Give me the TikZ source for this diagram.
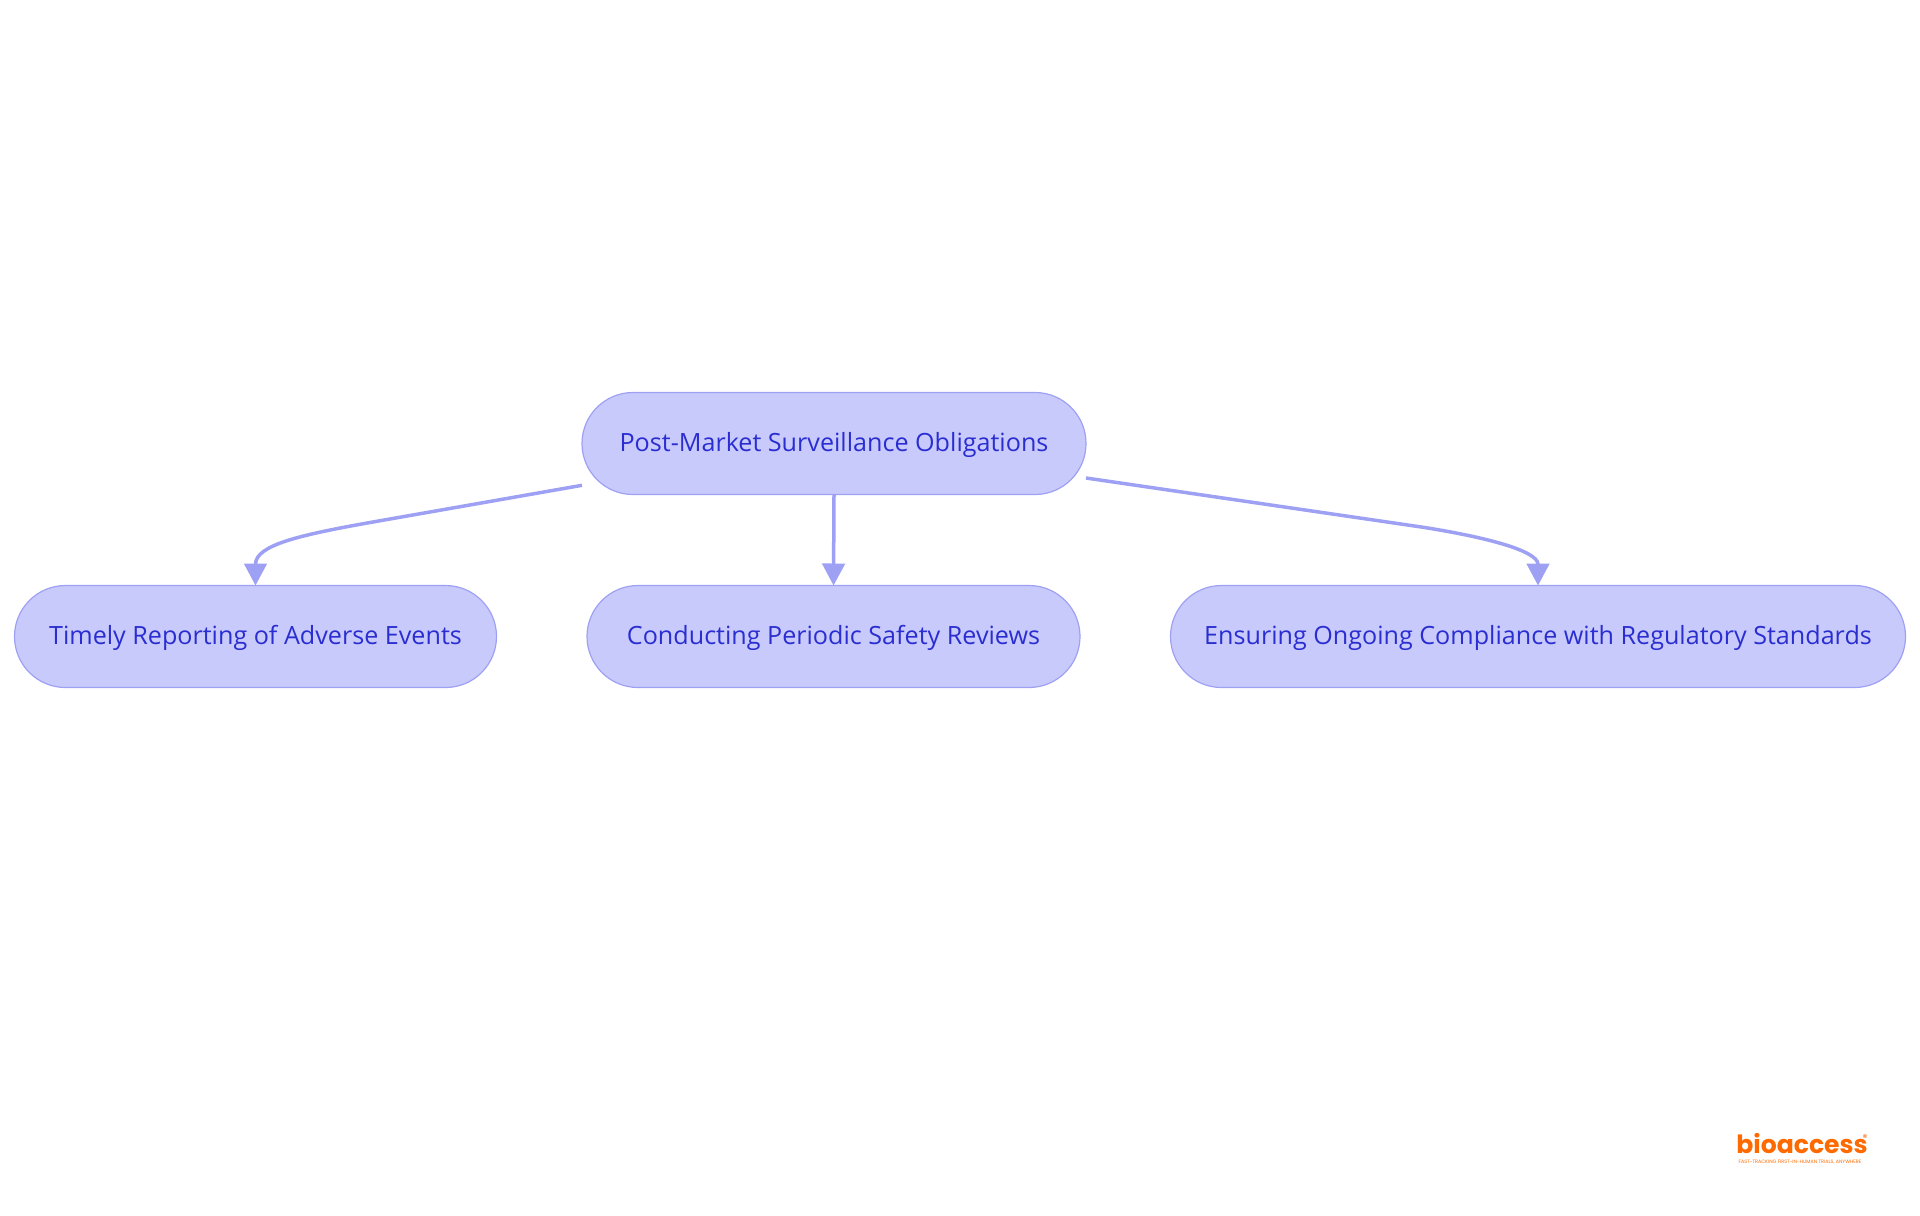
\documentclass[tikz,border=0pt]{standalone}
\usepackage{fontspec}
\setmainfont{Open Sans}
\newfontfamily\logofont{Poppins}
\usetikzlibrary{arrows.meta}
\definecolor{boxfill}{RGB}{201,202,252}
\definecolor{boxline}{RGB}{158,161,243}
\definecolor{boxtext}{RGB}{42,46,208}
\definecolor{logoorange}{RGB}{255,106,0}
\tikzset{
    obligation/.style={draw=boxline, fill=boxfill, text=boxtext, line width=.012cm, rounded corners=.51cm,
        minimum height=1.02cm, inner sep=0, outer sep=0, text height=6.4pt, text depth=1.74pt,
        font=\fontsize{7.15}{9}\selectfont},
    link/.style={draw=boxline, line width=.035cm, -{Triangle[width=.225cm,length=.22cm]}}
}
\begin{document}
\begin{tikzpicture}
    \useasboundingbox (0,0) rectangle (19.2,-12.15);

    % Top box
    \node[obligation, minimum width=5.04cm] (post) at (8.34,-4.435) {Post-Market Surveillance Obligations};

    % Three boxes below it
    \node[obligation, minimum width=4.82cm] (timely) at (2.555,-6.365) {Timely Reporting of Adverse Events};
    \node[obligation, minimum width=4.93cm] (periodic) at (8.335,-6.365) {Conducting Periodic Safety Reviews};
    \node[obligation, minimum width=7.35cm] (ongoing) at (15.38,-6.365) {Ensuring Ongoing Compliance with Regulatory Standards};

    % Connectors
    \coordinate (bendleft) at (3.7,-5.225);
    \coordinate (bendright) at (14.2,-5.268);
    \draw[link] ([yshift=-.418cm]post.west) -- (bendleft) .. controls (3.0,-5.35) and (2.555,-5.45) .. (timely.north);
    \draw[link] ([yshift=-.345cm]post.east) -- (bendright) .. controls (14.8,-5.36) and (15.38,-5.5) .. (ongoing.north);
    \draw[link] (post.south) -- (periodic.north);

    % Logo
    \node[text=logoorange, inner sep=0, font=\logofont\bfseries\fontsize{7.15}{9}\selectfont] (logo) at (18.02,-11.44) {bioaccess};
    \node[text=logoorange, inner sep=0, font=\logofont\fontsize{2.8}{3}\selectfont] (mark) at (18.65,-11.38) {®};
    \node[text=logoorange, inner sep=0, font=\logofont\fontsize{1.38}{1.6}\selectfont] (tagline) at (18.0,-11.62) {FAST-TRACKING FIRST-IN-HUMAN TRIALS, ANYWHERE};
\end{tikzpicture}
\end{document}
